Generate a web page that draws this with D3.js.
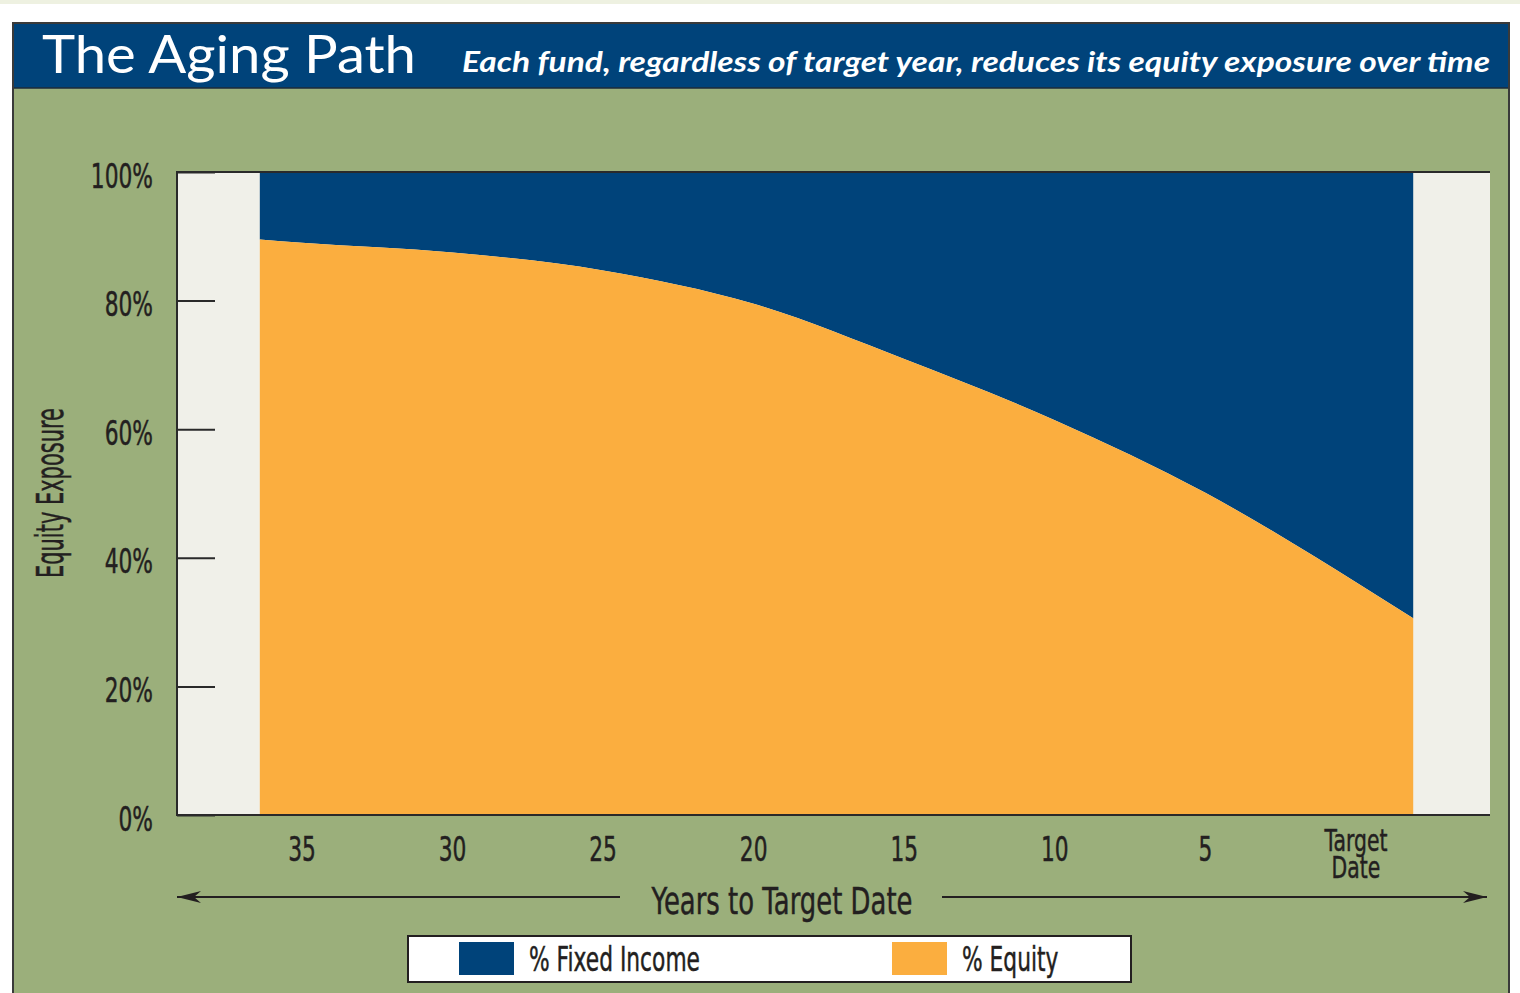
<!DOCTYPE html>
<html>
<head>
<meta charset="utf-8">
<script src="https://cdn.jsdelivr.net/npm/d3@7"></script>
<style>
  body { margin: 0; background: #fff; }
  svg { display: block; }
  .narrow { font-family: 'DejaVu Sans', sans-serif; fill: #231f20; stroke: #231f20; stroke-width: 0.5px; }
</style>
</head>
<body>
<div id="container"></div>
<script>
// years to target date (negative = past target) and % equity
const years = [36.4, 35, 30, 25, 20, 15, 10, 5, 0, -1.9];
const equity = [89.5, 89.0, 87.5, 84.7, 79.5, 70.9, 61.4, 50.1, 36.2, 30.6];
const xTickValues = [35, 30, 25, 20, 15, 10, 5, 0];
const xTickLabels = ['35', '30', '25', '20', '15', '10', '5', 'Target Date'];
const yTickValues = [0, 20, 40, 60, 80, 100];
const seriesNames = ['% Fixed Income', '% Equity'];

const svgWidth = 1520;
const svgHeight = 993;
const plot = { left: 177, right: 1490, top: 172, bottom: 815 };

const blue = '#00437a';
const orange = '#fbae3f';
const green = '#9baf7b';
const pale = '#f0f0e9';
const ink = '#231f20';

// the chart's labels are set in a tall condensed face
const squeeze = (sel, k) =>
  sel.each(function () {
    const len = this.getComputedTextLength();
    d3.select(this)
      .attr('textLength', len * k)
      .attr('lengthAdjust', 'spacingAndGlyphs');
  });

const svg = d3
  .select('#container')
  .append('svg')
  .attr('width', svgWidth)
  .attr('height', svgHeight);

// page strip + panel
svg.append('rect').attr('x', 0).attr('y', 0).attr('width', svgWidth).attr('height', 4).attr('fill', '#eef1e1');
svg.append('rect')
  .attr('x', 13).attr('y', 23).attr('width', 1496).attr('height', 990)
  .attr('fill', green).attr('stroke', '#3a3a3a').attr('stroke-width', 2);
svg.append('rect')
  .attr('x', 14).attr('y', 24).attr('width', 1494).attr('height', 64)
  .attr('fill', blue);
svg.append('line')
  .attr('x1', 14).attr('x2', 1508).attr('y1', 88).attr('y2', 88)
  .attr('stroke', '#1d2b3a').attr('stroke-width', 1.5);

// titles
svg.append('text')
  .text('The Aging Path')
  .attr('x', 42).attr('y', 73)
  .attr('textLength', 374).attr('lengthAdjust', 'spacingAndGlyphs')
  .style('font-family', 'Lato, "DejaVu Sans", sans-serif')
  .style('font-size', '52px')
  .style('fill', '#fff');
svg.append('text')
  .text('Each fund, regardless of target year, reduces its equity exposure over time')
  .attr('x', 462).attr('y', 72)
  .attr('textLength', 1028).attr('lengthAdjust', 'spacingAndGlyphs')
  .style('font-family', 'Lato, "DejaVu Sans", sans-serif')
  .style('font-size', '28px')
  .style('font-style', 'italic')
  .style('font-weight', 'bold')
  .style('fill', '#fff');

// scales
const x = d3.scaleLinear().domain([39.15, -4.45]).range([plot.left, plot.right]);
const y = d3.scaleLinear().domain([0, 100]).range([plot.bottom, plot.top]);

const data = years.map((yr, i) => ({ year: yr, equity: equity[i] }));

// plot background
svg.append('rect')
  .attr('x', plot.left).attr('y', plot.top)
  .attr('width', plot.right - plot.left).attr('height', plot.bottom - plot.top)
  .attr('fill', pale);

const fixedArea = d3.area()
  .x(d => x(d.year))
  .y0(d => y(d.equity))
  .y1(() => y(100))
  .curve(d3.curveMonotoneX);

const equityArea = d3.area()
  .x(d => x(d.year))
  .y0(() => y(0))
  .y1(d => y(d.equity))
  .curve(d3.curveMonotoneX);

svg.append('path').datum(data).attr('d', fixedArea).attr('fill', blue);
svg.append('path').datum(data).attr('d', equityArea).attr('fill', orange);

// plot borders (top, left, bottom)
svg.append('path')
  .attr('d', `M${plot.right},${plot.top}H${plot.left}V${plot.bottom}H${plot.right}`)
  .attr('fill', 'none').attr('stroke', '#2a2a2a').attr('stroke-width', 2);

// y axis
const yAxis = d3.axisLeft(y)
  .tickValues(yTickValues)
  .tickSizeInner(-38)
  .tickSizeOuter(0)
  .tickPadding(24)
  .tickFormat(d => d + '%');

const yG = svg.append('g')
  .attr('transform', `translate(${plot.left},0)`)
  .attr('font-family', null)
  .attr('font-size', null)
  .call(yAxis);
yG.select('.domain').remove();
yG.selectAll('.tick line').attr('stroke', '#2a2a2a').attr('stroke-width', 2);
yG.selectAll('.tick text')
  .attr('class', 'narrow')
  .attr('dy', null)
  .attr('y', 15)
  .style('font-size', '34px')
  .call(squeeze, 0.64);

svg.append('text')
  .attr('class', 'narrow')
  .text('Equity Exposure')
  .attr('transform', 'translate(63,493) rotate(-90)')
  .attr('text-anchor', 'middle')
  .attr('textLength', 170).attr('lengthAdjust', 'spacingAndGlyphs')
  .style('font-size', '37px');

// x axis labels
const xLab = svg.append('g').selectAll('text')
  .data(xTickValues)
  .enter()
  .append('text')
  .attr('class', 'narrow')
  .attr('text-anchor', 'middle')
  .attr('x', d => x(d))
  .attr('y', 861)
  .style('font-size', '34px');

xLab.each(function (d, i) {
  const words = xTickLabels[i].split(' ');
  const t = d3.select(this);
  if (words.length === 1) {
    t.text(words[0]);
  } else {
    t.attr('y', 851).style('font-size', '30px');
    words.forEach((w, j) => {
      t.append('tspan').attr('x', x(d)).attr('dy', j === 0 ? 0 : 27).text(w);
    });
  }
});
xLab.filter((d, i) => !xTickLabels[i].includes(' ')).call(squeeze, 0.64);
xLab.filter((d, i) => xTickLabels[i].includes(' ')).selectAll('tspan').call(squeeze, 0.68);

// x axis title with arrows
svg.append('defs').append('marker')
  .attr('id', 'arrow')
  .attr('viewBox', '0 0 24 12')
  .attr('refX', 24).attr('refY', 6)
  .attr('markerWidth', 24).attr('markerHeight', 12)
  .attr('markerUnits', 'userSpaceOnUse')
  .attr('orient', 'auto')
  .append('path')
  .attr('d', 'M0,0L24,6L0,12L7,6Z')
  .attr('fill', ink);

svg.append('line')
  .attr('x1', 620).attr('x2', plot.left).attr('y1', 897).attr('y2', 897)
  .attr('stroke', ink).attr('stroke-width', 2).attr('marker-end', 'url(#arrow)');
svg.append('line')
  .attr('x1', 942).attr('x2', 1487).attr('y1', 897).attr('y2', 897)
  .attr('stroke', ink).attr('stroke-width', 2).attr('marker-end', 'url(#arrow)');

svg.append('text')
  .attr('class', 'narrow')
  .text('Years to Target Date')
  .attr('x', 782).attr('y', 914)
  .attr('text-anchor', 'middle')
  .attr('textLength', 261).attr('lengthAdjust', 'spacingAndGlyphs')
  .style('font-size', '38px');

// legend
const legend = svg.append('g');
legend.append('rect')
  .attr('x', 408).attr('y', 936).attr('width', 723).attr('height', 46)
  .attr('fill', '#fff').attr('stroke', ink).attr('stroke-width', 2);

const legendX = [459, 892];
const legendColors = [blue, orange];

legend.selectAll('.legend-item')
  .data(seriesNames)
  .enter()
  .append('rect')
  .attr('class', 'legend-item')
  .attr('x', (d, i) => legendX[i])
  .attr('y', 942)
  .attr('width', 55)
  .attr('height', 33)
  .attr('fill', (d, i) => legendColors[i]);

legend.selectAll('.legend-text')
  .data(seriesNames)
  .enter()
  .append('text')
  .attr('class', 'narrow legend-text')
  .text(d => d)
  .attr('x', (d, i) => legendX[i] + 70)
  .attr('y', 971)
  .style('font-size', '34px')
  .call(squeeze, 0.64);
</script>
</body>
</html>
